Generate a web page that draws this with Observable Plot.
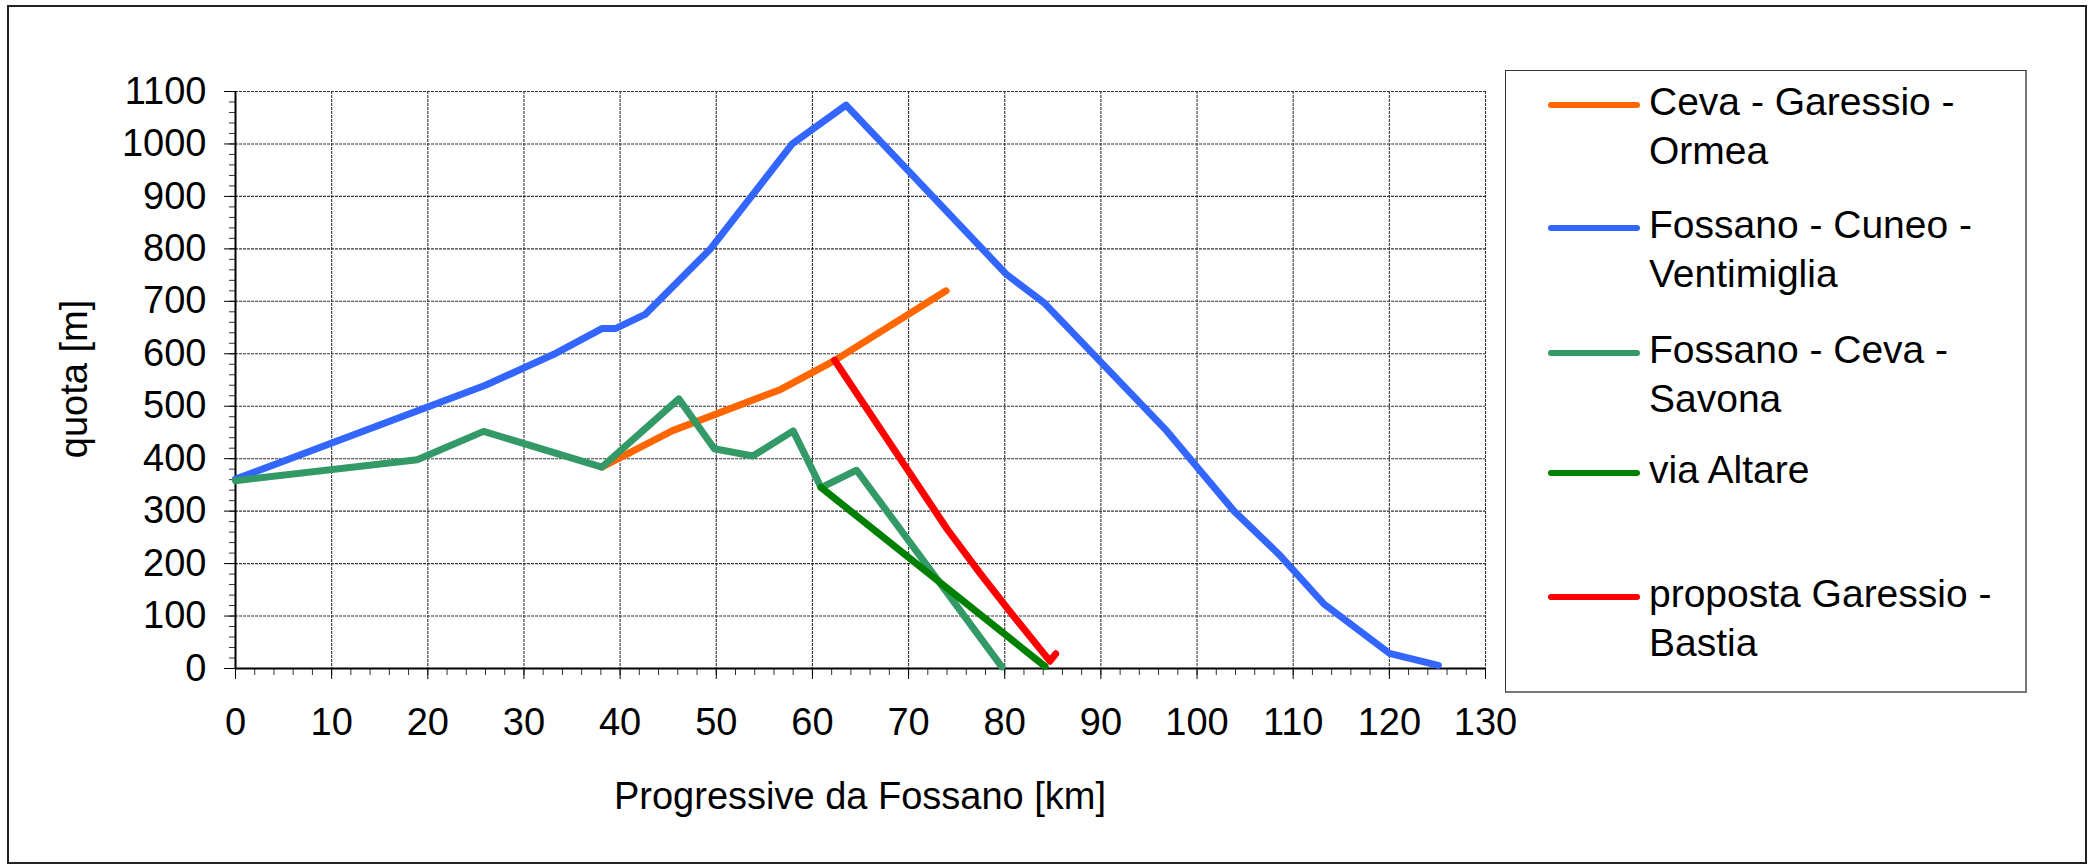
<!DOCTYPE html>
<html>
<head>
<meta charset="utf-8">
<script src="https://cdn.jsdelivr.net/npm/d3@7"></script>
<script src="https://cdn.jsdelivr.net/npm/@observablehq/plot@0.6"></script>
<style>
html, body { margin: 0; padding: 0; background: #fff; }
#wrap { position: relative; width: 2094px; height: 866px; overflow: hidden;
  font-family: "Liberation Sans", Arial, sans-serif; color: #000; background: #fff; }
#frame { position: absolute; left: 7px; top: 5px; width: 2080px; height: 859px;
  border: 2px solid #222; box-sizing: border-box; pointer-events: none; }
#chart { position: absolute; left: 0; top: 0; }
#legendBox { position: absolute; left: 1505px; top: 70px; width: 522px; height: 623px;
  box-sizing: border-box; border-top: 1.5px solid #333; border-left: 1.5px solid #333;
  border-right: 2px solid #777; border-bottom: 2px solid #777; }
.lgText { position: absolute; left: 1649px; font-size: 39px; line-height: 49px; white-space: pre; }
.lgSwatch { position: absolute; left: 1548px; width: 92px; height: 6px; border-radius: 3px; }
#xTitle { position: absolute; left: 460px; width: 800px; top: 777px; font-size: 38px;
  line-height: 38px; text-align: center; white-space: pre; }
#yTitle { position: absolute; left: -126px; top: 359px; width: 400px; height: 40px; font-size: 38px;
  line-height: 40px; text-align: center; white-space: pre; transform: rotate(-90deg); }
</style>
</head>
<body>
<div id="wrap">
  <div id="chart"></div>
  <div id="legendBox"></div>
  <div id="legend"></div>
  <div id="xTitle"></div>
  <div id="yTitle"></div>
  <div id="frame"></div>
</div>
<script>
// ---- Data ----
const seriesNames = [
  "Ceva - Garessio -\nOrmea",
  "Fossano - Cuneo -\nVentimiglia",
  "Fossano - Ceva -\nSavona",
  "via Altare",
  "proposta Garessio -\nBastia"
];

// Ceva - Garessio - Ormea
const cevaKm    = [38.1, 45.4, 56.7, 62.2, 73.9];
const cevaQuota = [384, 453, 532, 586, 720];

// Fossano - Cuneo - Ventimiglia
const cuneoKm    = [0, 26, 33.1, 38.1, 39.5, 42.6, 49.4, 57.9, 63.5, 80.2, 84.1, 96.7, 103.8, 108.5, 113.2, 120, 125.1];
const cuneoQuota = [361, 540, 599, 648, 648, 675, 800, 1000, 1074, 751, 697, 456, 301, 218, 123, 29, 6];

// Fossano - Ceva - Savona
const savonaKm    = [0, 18.9, 25.8, 38.1, 46.1, 49.8, 53.8, 58.0, 60.9, 64.6, 79.7];
const savonaQuota = [358, 398, 452, 384, 514, 419, 405, 453, 345, 378, 3];

// via Altare
const altareKm    = [60.9, 84.2];
const altareQuota = [345, 4];

// proposta Garessio - Bastia
const bastiaKm    = [62.3, 74.0, 77.5, 80.3, 84.7, 85.3];
const bastiaQuota = [588, 266, 180, 114, 14, 28];

// Tick labels
const xTickLabels = [0, 10, 20, 30, 40, 50, 60, 70, 80, 90, 100, 110, 120, 130];
const yTickLabels = [0, 100, 200, 300, 400, 500, 600, 700, 800, 900, 1000, 1100];

const xTitle = "Progressive da Fossano [km]";
const yTitle = "quota [m]";

// ---- Styles ----
const colors = ["#FF6600", "#3366FF", "#339966", "#008000", "#FF0000"];

const seriesData = [
  [cevaKm, cevaQuota],
  [cuneoKm, cuneoQuota],
  [savonaKm, savonaQuota],
  [altareKm, altareQuota],
  [bastiaKm, bastiaQuota]
];

const rows = [];
seriesData.forEach(([kms, qs], i) => {
  kms.forEach((k, j) => rows.push({series: i, km: k, quota: qs[j]}));
});

const xMinor = d3.range(0, 131, 2);
const yMinor = d3.range(0, 1101, 20);

const gridStyle = {stroke: "#333", strokeWidth: 1.1, strokeDasharray: "3,1"};

const plot = Plot.plot({
  width: 1500,
  height: 866,
  marginLeft: 235,
  marginRight: 15,
  marginTop: 91,
  marginBottom: 198,
  style: {
    fontFamily: "'Liberation Sans', Arial, sans-serif",
    fontSize: "38px",
    color: "#000",
    background: "transparent",
    overflow: "visible"
  },
  x: {domain: [0, 130]},
  y: {domain: [0, 1100]},
  marks: [
    Plot.ruleX(xTickLabels.filter(d => d > 0), gridStyle),
    Plot.ruleY(yTickLabels.filter(d => d > 0), gridStyle),
    Plot.axisY({ticks: yMinor, tickSize: 6, tickFormat: () => "", label: null, stroke: "#333"}),
    Plot.axisY({ticks: yTickLabels, tickSize: 11, tickPadding: 18, tickFormat: d => String(d), label: null, stroke: "#000"}),
    Plot.axisX({ticks: xMinor, tickSize: 7, tickFormat: () => "", label: null, stroke: "#333"}),
    Plot.axisX({ticks: xTickLabels, tickSize: 11, tickPadding: 29, tickFormat: d => String(d), label: null, stroke: "#000"}),
    Plot.ruleX([0], {stroke: "#000", strokeWidth: 2}),
    Plot.ruleY([0], {stroke: "#000", strokeWidth: 2}),
    ...seriesData.map((_, i) =>
      Plot.line(rows.filter(r => r.series === i), {
        x: "km", y: "quota", stroke: colors[i], strokeWidth: 7,
        strokeLinejoin: "round", strokeLinecap: "round"
      })
    )
  ]
});
document.getElementById("chart").appendChild(plot);

// ---- Legend ----
const legendTops = [77, 200.3, 324.7, 444.7, 568.7];
const legend = document.getElementById("legend");
seriesNames.forEach((name, i) => {
  const sw = document.createElement("div");
  sw.className = "lgSwatch";
  sw.style.top = (legendTops[i] + 25) + "px";
  sw.style.background = colors[i];
  legend.appendChild(sw);
  const t = document.createElement("div");
  t.className = "lgText";
  t.style.top = legendTops[i] + "px";
  t.textContent = name;
  legend.appendChild(t);
});

document.getElementById("xTitle").textContent = xTitle;
document.getElementById("yTitle").textContent = yTitle;
</script>
</body>
</html>
